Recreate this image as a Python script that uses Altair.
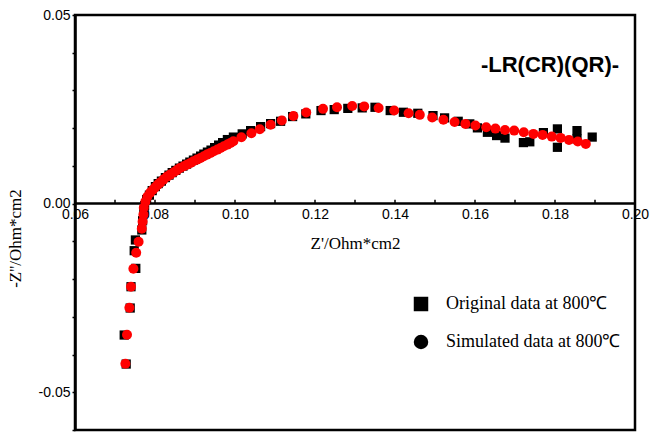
import altair as alt
import pandas as pd

# ---- data ----
orig_x = [0.0728, 0.0723, 0.0738, 0.0740, 0.0752, 0.0748, 0.0751, 0.0767,
          0.0769, 0.0772, 0.0774, 0.0779, 0.0786, 0.0793, 0.0801, 0.0808,
          0.0816, 0.0826, 0.0835, 0.0843, 0.0852, 0.0861, 0.0870, 0.0879,
          0.0887, 0.0896, 0.0905, 0.0914, 0.0922, 0.0931, 0.0940, 0.0949,
          0.0959, 0.0969, 0.0981, 0.0996, 0.1018, 0.1039, 0.1064, 0.1089,
          0.1114, 0.1144, 0.1177, 0.1215, 0.1248, 0.1282, 0.1318, 0.1350,
          0.1388, 0.1421, 0.1457, 0.1495, 0.1524, 0.1558, 0.1587, 0.1606,
          0.1631, 0.1654, 0.1675, 0.1721, 0.1737, 0.1771, 0.1806, 0.1806,
          0.1855, 0.1855, 0.1893]
orig_y = [-0.04252, -0.03483, -0.02767, -0.02202, -0.01716, -0.01247, -0.00963, -0.00698,
          -0.00451, -0.00239, -0.00053, 0.00106, 0.00225, 0.00345, 0.00451, 0.00531,
          0.00597, 0.00690, 0.00756, 0.00822, 0.00881, 0.00942, 0.00995, 0.01048,
          0.01101, 0.01154, 0.01207, 0.01260, 0.01313, 0.01366, 0.01419, 0.01485,
          0.01552, 0.01618, 0.01698, 0.01764, 0.01849, 0.01936, 0.02042, 0.02122,
          0.02183, 0.02308, 0.02379, 0.02467, 0.02493, 0.02525, 0.02538, 0.02554,
          0.02467, 0.02422, 0.02395, 0.02334, 0.02273, 0.02183, 0.02114, 0.02008,
          0.01891, 0.01804, 0.01737, 0.01618, 0.01639, 0.01883, 0.01493, 0.01981,
          0.01936, 0.01716, 0.01764]

sim_x = [0.0726, 0.0730, 0.0736, 0.0740, 0.0746, 0.0753, 0.0759, 0.0767,
         0.0769, 0.0771, 0.0772, 0.0776, 0.0781, 0.0788, 0.0795, 0.0801,
         0.0807, 0.0813, 0.0821, 0.0830, 0.0838, 0.0847, 0.0855, 0.0863,
         0.0872, 0.0880, 0.0889, 0.0896, 0.0905, 0.0914, 0.0922, 0.0930,
         0.0939, 0.0947, 0.0956, 0.0964, 0.0972, 0.0981, 0.0989, 0.0996,
         0.1016, 0.1041, 0.1062, 0.1089, 0.1117, 0.1146, 0.1178, 0.1220,
         0.1255, 0.1293, 0.1323, 0.1359, 0.1398, 0.1434, 0.1462, 0.1493,
         0.1521, 0.1549, 0.1576, 0.1601, 0.1628, 0.1651, 0.1675, 0.1698,
         0.1722, 0.1746, 0.1769, 0.1792, 0.1814, 0.1835, 0.1857, 0.1877]
sim_y = [-0.04244, -0.03475, -0.02759, -0.02202, -0.01724, -0.01300, -0.01008, -0.00663,
         -0.00477, -0.00292, -0.00106, 0.00053, 0.00186, 0.00292, 0.00371, 0.00438,
         0.00504, 0.00557, 0.00637, 0.00716, 0.00769, 0.00830, 0.00889, 0.00947,
         0.00992, 0.01034, 0.01080, 0.01122, 0.01167, 0.01212, 0.01257, 0.01300,
         0.01345, 0.01387, 0.01432, 0.01477, 0.01520, 0.01565, 0.01610, 0.01653,
         0.01759, 0.01865, 0.01971, 0.02090, 0.02202, 0.02321, 0.02414, 0.02512,
         0.02554, 0.02586, 0.02578, 0.02533, 0.02467, 0.02395, 0.02353, 0.02281,
         0.02223, 0.02162, 0.02114, 0.02069, 0.02024, 0.01989, 0.01950, 0.01936,
         0.01891, 0.01849, 0.01822, 0.01777, 0.01743, 0.01690, 0.01645, 0.01584]

series_names = ["Original data at 800\u2103", "Simulated data at 800\u2103"]
x_ticks = [0.06, 0.07, 0.08, 0.09, 0.10, 0.11, 0.12, 0.13, 0.14, 0.15, 0.16, 0.17, 0.18, 0.19, 0.20]
x_minor = [0.07, 0.08, 0.09, 0.10, 0.11, 0.12, 0.13, 0.14, 0.15, 0.16, 0.17, 0.18, 0.19]
y_ticks = [-0.06, -0.05, -0.04, -0.03, -0.02, -0.01, 0.0, 0.01, 0.02, 0.03, 0.04, 0.05]
annotation = "-LR(CR)(QR)-"

df = pd.concat([
    pd.DataFrame({"x": orig_x, "y": orig_y, "series": series_names[0]}),
    pd.DataFrame({"x": sim_x, "y": sim_y, "series": series_names[1]}),
], ignore_index=True)

W, H = 560, 415
SERIF = "Liberation Serif"
SANS = "Liberation Sans"

xscale = alt.Scale(domain=[0.06, 0.20], nice=False, zero=False)
yscale = alt.Scale(domain=[-0.06, 0.05], nice=False, zero=False)
shape_scale = alt.Scale(domain=series_names, range=["square", "circle"])

x_axis = alt.Axis(values=x_ticks, title="Z'/Ohm*cm2", offset=-227,
                  labelExpr="round(datum.value*100) % 2 == 0 ? format(datum.value, '.2f') : ''",
                  tickSize=0, labelPadding=4, labelFlush=False, labelOverlap=False,
                  labelFont=SANS, labelFontSize=14, labelColor="black",
                  domainColor="black", domainWidth=2.5,
                  titleFont=SERIF, titleFontSize=17, titleFontWeight="normal",
                  titleColor="black", titleX=280, titleY=40, titleBaseline="middle",
                  grid=False)
y_label_expr = ("abs(datum.value - 0.05) < 1e-6 ? '0.05' : "
                "(abs(datum.value) < 1e-6 ? '0.00' : "
                "(abs(datum.value + 0.05) < 1e-6 ? '-0.05' : ''))")
y_axis = alt.Axis(values=y_ticks, title="-Z''/Ohm*cm2",
                  labelExpr=y_label_expr,
                  tickSize=3, tickColor="black", tickWidth=1.5, labelPadding=2,
                  labelFlush=False, labelOverlap=False,
                  labelFont=SANS, labelFontSize=14, labelColor="black",
                  domainColor="black", domainWidth=2.5,
                  titleFont=SERIF, titleFontSize=17, titleFontWeight="normal",
                  titleColor="black", titleX=-60, titleY=223, titleAngle=270,
                  titleAlign="center", titleBaseline="middle",
                  grid=False)
x_enc = alt.X("x:Q", scale=xscale, axis=x_axis)
y_enc = alt.Y("y:Q", scale=yscale, axis=y_axis)
shape_enc = alt.Shape("series:N", scale=shape_scale,
                      legend=alt.Legend(title=None, orient="none", legendX=337, legendY=280,
                                        symbolSize=210, symbolFillColor="black",
                                        symbolStrokeColor="black", symbolStrokeWidth=0,
                                        labelFont=SERIF, labelFontSize=18, labelColor="black",
                                        labelLimit=0, labelOffset=16, rowPadding=20))

base = alt.Chart(df)
orig_layer = base.transform_filter(alt.datum.series == series_names[0]).mark_point(
    filled=True, opacity=1, size=85, color="black"
).encode(x=x_enc, y=y_enc, shape=shape_enc)
sim_layer = base.transform_filter(alt.datum.series == series_names[1]).mark_point(
    filled=True, opacity=1, size=100, color="#ff0000"
).encode(x=x_enc, y=y_enc, shape=shape_enc)

ticks_df = pd.DataFrame({"x": x_minor})
ticks = alt.Chart(ticks_df).mark_rule(color="black", strokeWidth=1.5, y2Offset=-4).encode(
    x=alt.X("x:Q", scale=xscale, axis=x_axis),
    y=alt.YDatum(0.0, axis=y_axis),
    y2=alt.Y2Datum(0.0),
)

label = alt.Chart(pd.DataFrame({"t": [annotation]})).mark_text(
    font=SANS, fontSize=22, fontWeight="bold", color="black", align="center", baseline="middle"
).encode(x=alt.value(475), y=alt.value(50), text="t:N")

chart = alt.layer(orig_layer, sim_layer, ticks, label).properties(
    width=W, height=H,
    autosize=alt.AutoSizeParams(type="none"),
    padding={"left": 75, "top": 15, "right": 16, "bottom": 5},
).configure(background="white").configure_view(stroke="black", strokeWidth=2.5)

chart.save("out.html", embed_options={"renderer": "svg", "actions": False})
